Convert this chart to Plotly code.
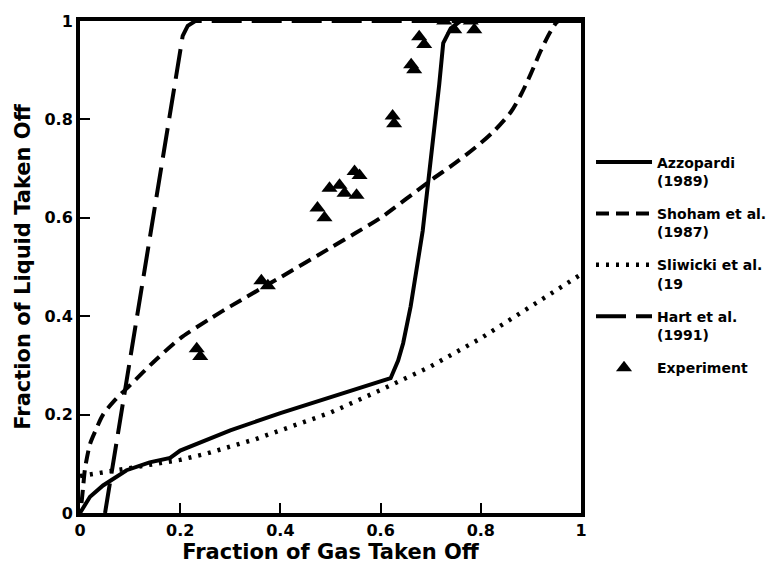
import plotly.graph_objects as go

# Azzopardi (1989) - solid
azz_x = [0, 0.02, 0.046, 0.093, 0.139, 0.18, 0.2, 0.3, 0.4, 0.5, 0.62, 0.635, 0.645, 0.66, 0.684, 0.717, 0.725, 0.74, 0.76, 1.0]
azz_y = [0, 0.033, 0.056, 0.087, 0.103, 0.112, 0.127, 0.168, 0.203, 0.236, 0.274, 0.31, 0.345, 0.42, 0.573, 0.871, 0.955, 0.985, 1.0, 1.0]

# Shoham et al. (1987) - short dash
sho_x = [0.003, 0.006, 0.01, 0.02, 0.03, 0.046, 0.07, 0.1, 0.15, 0.2, 0.26, 0.3, 0.4, 0.5, 0.55, 0.6, 0.7, 0.75, 0.8, 0.83, 0.86, 0.88, 0.9, 0.92, 0.94, 0.955, 1.0]
sho_y = [0.02, 0.05, 0.09, 0.14, 0.165, 0.2, 0.23, 0.26, 0.31, 0.355, 0.395, 0.42, 0.479, 0.539, 0.569, 0.6, 0.676, 0.712, 0.752, 0.78, 0.815, 0.85, 0.893, 0.94, 0.98, 1.0, 1.0]

# Sliwicki et al. - dotted
sli_x = [0, 0.04, 0.08, 0.12, 0.16, 0.2, 0.25, 0.3, 0.35, 0.4, 0.5, 0.6, 0.7, 0.8, 0.86, 0.9, 1.0]
sli_y = [0.075, 0.082, 0.088, 0.095, 0.102, 0.108, 0.12, 0.135, 0.15, 0.168, 0.204, 0.25, 0.298, 0.355, 0.395, 0.42, 0.485]

# Hart et al. (1991) - long dash
hart_x = [0.05, 0.106, 0.183, 0.198, 0.205, 0.215, 0.23, 1.0]
hart_y = [0, 0.348, 0.831, 0.93, 0.97, 0.99, 1.0, 1.0]

# Experiment - triangles
exp_x = [0.233, 0.240, 0.362, 0.375, 0.474, 0.488, 0.498, 0.518, 0.528, 0.552, 0.548, 0.558,
         0.624, 0.627, 0.661, 0.667, 0.677, 0.687, 0.727, 0.747, 0.78, 0.787]
exp_y = [0.334, 0.318, 0.472, 0.462, 0.62, 0.60, 0.66, 0.666, 0.65, 0.646, 0.694, 0.686,
         0.807, 0.791, 0.911, 0.901, 0.968, 0.952, 1.0, 0.982, 1.0, 0.982]

tick_vals = [0, 0.2, 0.4, 0.6, 0.8, 1]
tick_text = ["0", "0.2", "0.4", "0.6", "0.8", "1"]

FONT = "DejaVu Sans, Arial, Helvetica, sans-serif"

fig = go.Figure()
fig.add_trace(go.Scatter(x=azz_x, y=azz_y, mode="lines", name="Azzopardi<br>(1989)",
                         line=dict(color="black", width=4, dash="solid"), legendgroup="a"))
fig.add_trace(go.Scatter(x=sho_x, y=sho_y, mode="lines", name="Shoham et al.<br>(1987)",
                         line=dict(color="black", width=4, dash="13px,7px", shape="spline", smoothing=0.8),
                         legendgroup="b"))
fig.add_trace(go.Scatter(x=sli_x, y=sli_y, mode="lines", name="Sliwicki et al.<br>(19",
                         line=dict(color="black", width=4.5, dash="3px,7px"), legendgroup="c"))
fig.add_trace(go.Scatter(x=hart_x, y=hart_y, mode="lines", name="Hart et al.<br>(1991)",
                         line=dict(color="black", width=4, dash="30px,10px"), legendgroup="d"))
fig.add_trace(go.Scatter(x=exp_x, y=exp_y, mode="markers", name="Experiment",
                         marker=dict(symbol="triangle-up", size=14, color="black"), legendgroup="e"))

axis_common = dict(
    range=[0, 1], tickvals=tick_vals, ticktext=tick_text,
    showgrid=False, zeroline=False, showline=True, mirror=True,
    linecolor="black", linewidth=4, ticks="inside", ticklen=10, tickwidth=2,
    tickcolor="black", tickfont=dict(family=FONT, size=16, color="black", weight="bold"),
)

fig.update_layout(
    width=784, height=572, autosize=False,
    margin=dict(l=80, r=201, t=16, b=59),
    plot_bgcolor="white", paper_bgcolor="white",
    font=dict(family=FONT, color="black", weight="bold"),
    xaxis=dict(**axis_common,
               title=dict(text="Fraction of Gas Taken Off", standoff=4,
                          font=dict(family=FONT, size=21, color="black", weight="bold"))),
    yaxis=dict(**axis_common,
               title=dict(text="Fraction of Liquid Taken Off", standoff=9,
                          font=dict(family=FONT, size=21, color="black", weight="bold"))),
    legend=dict(x=1.02, y=0.745, xanchor="left", yanchor="top", valign="top",
                font=dict(family=FONT, size=14, color="black", weight="bold"),
                bgcolor="rgba(0,0,0,0)", tracegroupgap=12, itemwidth=56),
    showlegend=True,
)

fig.write_html("out.html")
